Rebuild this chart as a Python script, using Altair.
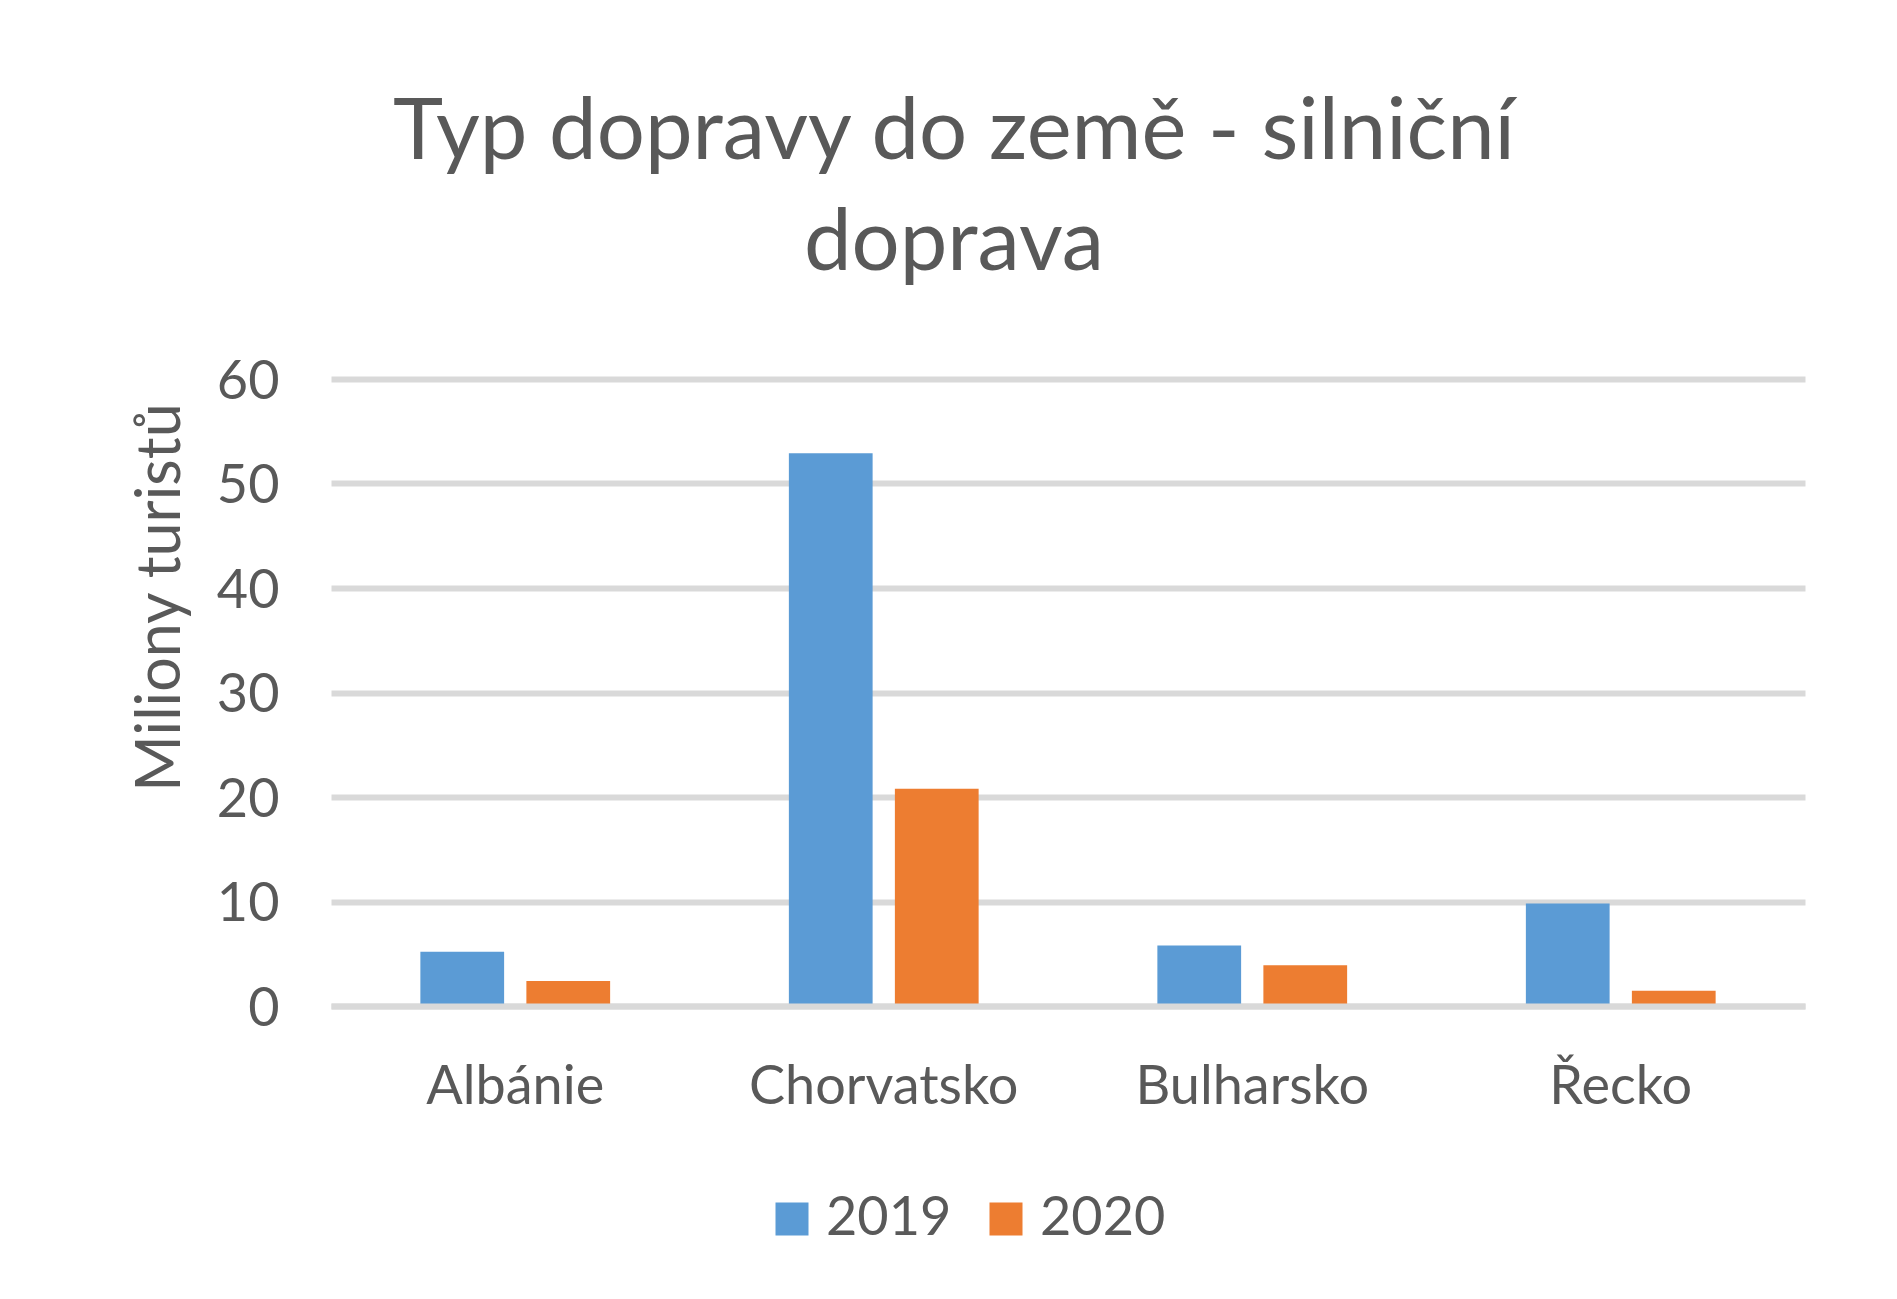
import altair as alt
import pandas as pd

countries = ["Albánie", "Chorvatsko", "Bulharsko", "Řecko"]
years = ["2019", "2020"]
vals_2019 = [5.2, 52.9, 5.8, 9.8]
vals_2020 = [2.4, 20.8, 3.9, 1.45]
y_ticks = [0, 10, 20, 30, 40, 50, 60]
colors = ["#5B9BD5", "#ED7D31"]

rows = []
for c, v in zip(countries, vals_2019):
    rows.append({"zeme": c, "rok": "2019", "hodnota": v})
for c, v in zip(countries, vals_2020):
    rows.append({"zeme": c, "rok": "2020", "hodnota": v})
df = pd.DataFrame(rows)

FONT = "Lato"
TXT = "#595959"
GRID = "#D9D9D9"

chart = alt.Chart(df).mark_bar().encode(
    x=alt.X(
        "zeme:N",
        sort=countries,
        scale=alt.Scale(paddingInner=0, paddingOuter=0),
        axis=alt.Axis(
            title=None, labelFont=FONT, labelFontSize=54, labelColor=TXT,
            labelBaseline="alphabetic", labelPadding=97, labelAngle=0,
            labelLimit=1000,
            ticks=False, domain=True, domainColor=GRID, domainWidth=6,
            zindex=1, grid=False,
        ),
    ),
    xOffset=alt.XOffset(
        "rok:N", sort=years,
        scale=alt.Scale(paddingInner=0.21, paddingOuter=0.843),
    ),
    y=alt.Y(
        "hodnota:Q",
        scale=alt.Scale(domain=[0, 60], nice=False),
        axis=alt.Axis(
            values=y_ticks, format="d", title="Miliony turistů",
            grid=True, gridColor=GRID, gridWidth=6,
            domain=False, ticks=False,
            labelFont=FONT, labelFontSize=54, labelColor=TXT,
            labelPadding=52, labelBaseline="alphabetic", labelOffset=19,
            titleFont=FONT, titleFontSize=61, titleColor=TXT,
            titleFontWeight="normal", titleAngle=270, titleAlign="center",
            titleBaseline="alphabetic", titleX=-151.5, titleY=218,
        ),
    ),
    color=alt.Color(
        "rok:N",
        scale=alt.Scale(domain=years, range=colors),
        legend=alt.Legend(
            title=None, orient="none", legendX=434, legendY=813,
            direction="horizontal", symbolType="square", symbolSize=1089,
            symbolStrokeWidth=0, labelFont=FONT, labelFontSize=54,
            labelColor=TXT, labelOffset=7, columnPadding=27, padding=0,
        ),
    ),
).properties(
    width=1474,
    height=627,
    autosize=alt.AutoSizeParams(type="none"),
    padding={"left": 323, "top": 371, "right": 84, "bottom": 270},
    background="white",
    title=alt.TitleParams(
        text=["Typ dopravy do země - silniční", "doprava"],
        font=FONT, fontSize=85, fontWeight="normal", color=TXT,
        anchor="middle", dx=-114, lineHeight=111, offset=67,
    ),
).configure_view(stroke=None)

chart.save("out.html", embed_options={"renderer": "svg", "actions": False})
